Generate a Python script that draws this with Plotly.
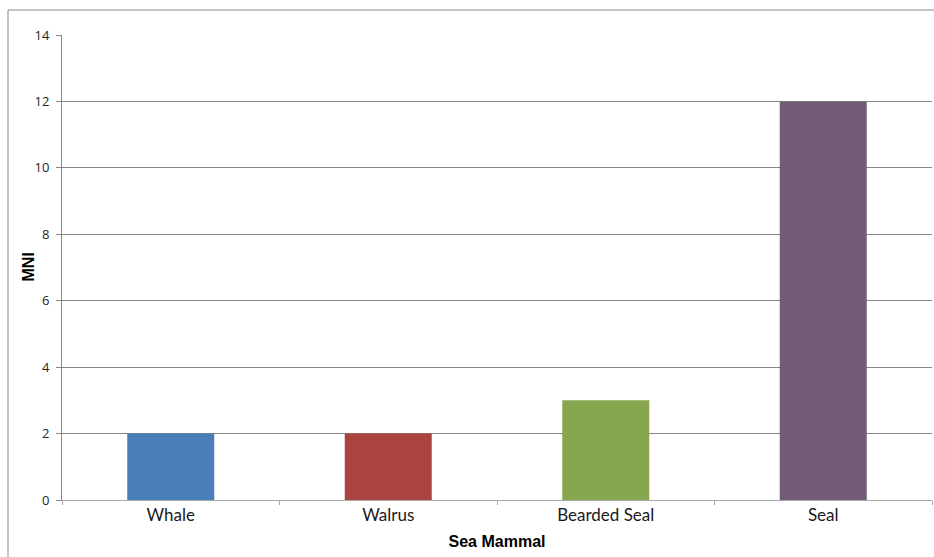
import plotly.graph_objects as go

# Minimum number of individuals per sea mammal taxon
categories = ["Whale", "Walrus", "Bearded Seal", "Seal"]
mni_values = [2, 2, 3, 12]
bar_colors = ["#4A7EBB", "#AA4441", "#87A74E", "#725C78"]
y_ticks = [0, 2, 4, 6, 8, 10, 12, 14]

fig = go.Figure(
    go.Bar(
        x=categories,
        y=mni_values,
        marker=dict(color=bar_colors, line=dict(width=0)),
        showlegend=False,
    )
)

W, H = 934, 557
ml, mr, mt, mb = 62, 2, 35, 57
pw, ph = W - ml - mr, H - mt - mb

fig.update_layout(
    width=W,
    height=H,
    margin=dict(l=ml, r=mr, t=mt, b=mb),
    paper_bgcolor="white",
    plot_bgcolor="white",
    bargap=0.6,
    xaxis=dict(
        title=dict(text="<b>Sea Mammal</b>", font=dict(family="Arial", size=16, color="black"), standoff=11),
        tickfont=dict(family="Lato", size=17, color="#1a1a1a"),
        showline=True,
        linecolor="#A6A6A6",
        linewidth=1,
        ticks="outside",
        ticklen=4,
        tickcolor="#A6A6A6",
        tickson="boundaries",
        showgrid=False,
    ),
    yaxis=dict(
        range=[0, 14],
        tickvals=y_ticks,
        tickfont=dict(family="Open Sans", size=13, color="#262626"),
        ticklabelstandoff=4,
        showline=True,
        linecolor="#868686",
        linewidth=1,
        ticks="outside",
        ticklen=5,
        tickcolor="#868686",
        showgrid=True,
        gridcolor="#868686",
        gridwidth=1,
        zeroline=False,
    ),
    annotations=[
        # y-axis title
        dict(
            text="<b>MNI</b>",
            xref="paper",
            yref="paper",
            x=(28 - ml) / pw,
            y=0.5,
            xanchor="center",
            yanchor="middle",
            textangle=-90,
            showarrow=False,
            font=dict(family="Arial", size=16, color="black"),
        )
    ],
    shapes=[
        # chart-area frame (left and top edges visible)
        dict(
            type="rect",
            xref="paper",
            yref="paper",
            x0=(8 - ml) / pw,
            x1=(W + 20 - ml) / pw,
            y0=-(H + 20 - mt - ph) / ph,
            y1=1 + (mt - 10) / ph,
            line=dict(color="#888", width=1),
            layer="below",
        )
    ],
)

fig.write_html("out.html")
